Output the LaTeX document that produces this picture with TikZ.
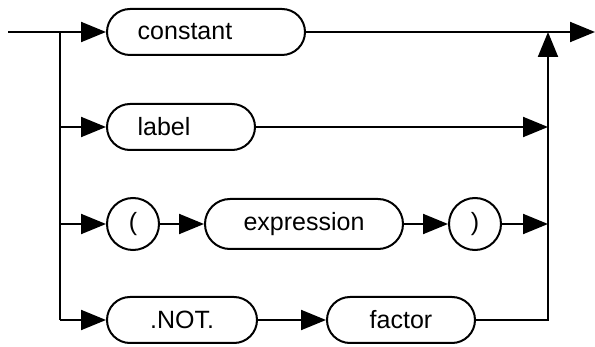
\documentclass[tikz,border=0pt]{standalone}
\usepackage{fontspec}
\setmainfont{Liberation Sans}
\usetikzlibrary{positioning,arrows.meta}

\tikzset{
	term/.style={draw,line width=2pt,rounded corners=23pt,minimum height=46pt,inner sep=0pt,font=\fontsize{25}{30}\selectfont},
	sym/.style={draw,line width=2pt,circle,minimum size=52pt,inner sep=0pt,font=\fontsize{25}{30}\selectfont},
	flow/.style={line width=2pt,-{Triangle[length=25pt,width=20pt]}},
	rail/.style={line width=2pt}
}

\begin{document}
\begin{tikzpicture}[x=1pt,y=-1pt]

\useasboundingbox (0,0) rectangle (595,347);

\def\xs{60}
\def\xe{548}

% boxes of the four rows
\node[term,minimum width=198pt] (constant) at (206,32) {constant\hspace*{42pt}};
\node[term,minimum width=148pt] (label) at (181,127) {label\hspace*{34pt}};
\node[sym] (lp) at (133,224) {(};
\node[term,minimum width=198pt,minimum height=50pt,rounded corners=25pt] (expr) at (304,224) {expression};
\node[sym] (rp) at (475,224) {)};
\node[term,minimum width=150pt] (not) at (182,320) {.NOT.};
\node[term,minimum width=148pt] (factor) at (401,320) {factor};

% junction points
\coordinate (in) at (8,32);
\coordinate (s1) at (\xs,32);
\coordinate (s4) at (\xs,320);
\coordinate (e1) at (\xe,32);
\coordinate (e2) at (\xe,127);
\coordinate (e3) at (\xe,224);
\coordinate (e4) at (\xe,320);
\coordinate (out) at (595,32);

\draw[rail](in)--(s1)--(s4);
\draw[flow](s1)--(constant);
\foreach \n in {label,lp,not}
	\draw[flow](\xs,0 |- \n.west)--(\n.west);

\foreach \x/\y in {lp/expr,expr/rp,not/factor}
	\draw[flow](\x)--(\y);

\draw[flow](constant)--(out);
\draw[flow](label)--(e2);
\draw[flow](rp)--(e3);
\draw[flow](factor.east)--(e4)--(e1);
\end{tikzpicture}
\end{document}
